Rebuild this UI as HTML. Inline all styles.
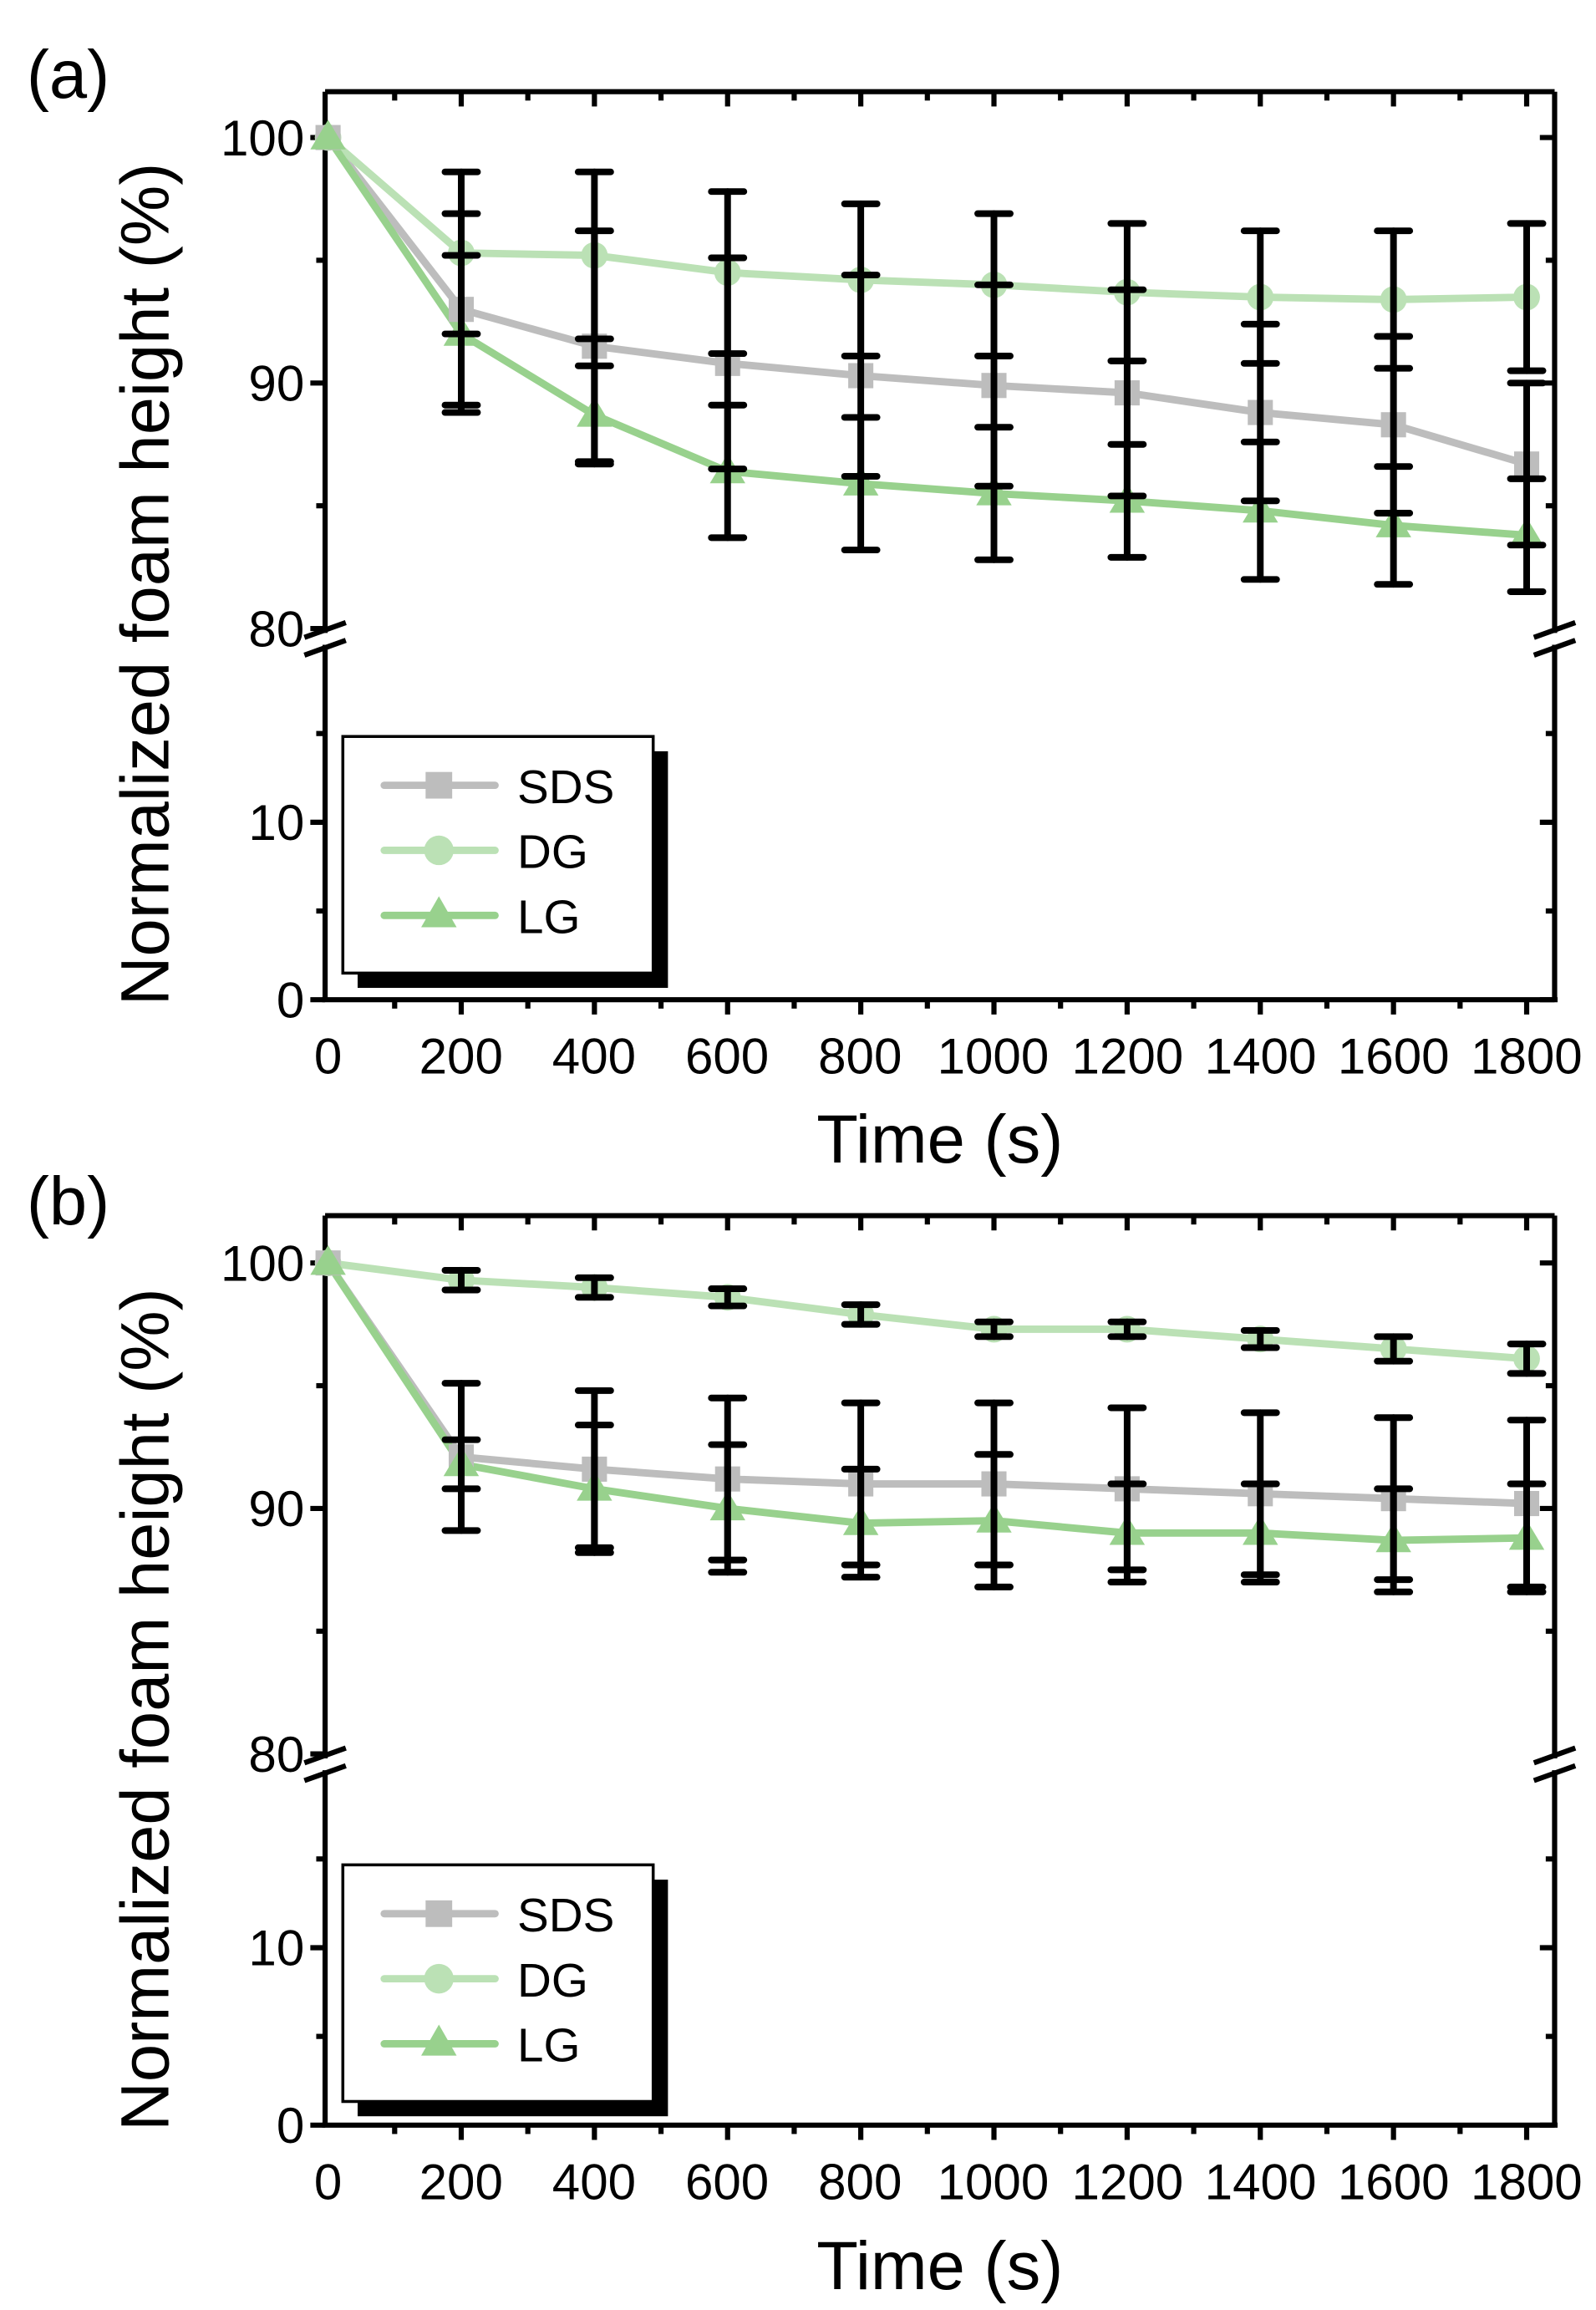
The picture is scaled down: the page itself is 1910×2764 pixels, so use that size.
<!DOCTYPE html>
<html><head><meta charset="utf-8"><style>
html,body{margin:0;padding:0;background:#fff}
svg{display:block}
text{font-family:"Liberation Sans",sans-serif;fill:#000}
</style></head><body>
<svg id="s" width="1910" height="2764" viewBox="0 0 1080 1562" preserveAspectRatio="none" xmlns="http://www.w3.org/2000/svg">
<rect width="1080" height="1562" fill="#fff"/>
<g id="pa"></g>
<g id="pb"></g>
<text x="18" y="66" font-size="46">(a)</text>
<text font-size="34" text-anchor="end" x="206" y="105">100</text>
<text font-size="34" text-anchor="end" x="206" y="271">90</text>
<text font-size="34" text-anchor="end" x="206" y="437">80</text>
<text font-size="34" text-anchor="end" x="206" y="568">10</text>
<text font-size="34" text-anchor="end" x="206" y="688">0</text>
<g font-size="34" text-anchor="middle">
<text x="222" y="726">0</text><text x="312" y="726">200</text><text x="402" y="726">400</text><text x="492" y="726">600</text><text x="582" y="726">800</text><text x="672" y="726">1000</text><text x="763" y="726">1200</text><text x="853" y="726">1400</text><text x="943" y="726">1600</text><text x="1033" y="726">1800</text>
</g>
<text x="636" y="786" font-size="46" text-anchor="middle">Time (s)</text>
<text transform="translate(114,395) rotate(-90)" font-size="46" text-anchor="middle">Normalized foam height (%)</text>
<rect x="242" y="508" width="210" height="160" fill="#000"/>
<rect x="232" y="498" width="210" height="160" fill="#fff" stroke="#000" stroke-width="2"/>
<text x="350" y="543" font-size="32">SDS</text>
<text x="350" y="587" font-size="32">DG</text>
<text x="350" y="631" font-size="32">LG</text>
<text x="18" y="828" font-size="46">(b)</text>
<text font-size="34" text-anchor="end" x="206" y="866">100</text>
<text font-size="34" text-anchor="end" x="206" y="1032">90</text>
<text font-size="34" text-anchor="end" x="206" y="1198">80</text>
<text font-size="34" text-anchor="end" x="206" y="1329">10</text>
<text font-size="34" text-anchor="end" x="206" y="1449">0</text>
<g font-size="34" text-anchor="middle">
<text x="222" y="1487">0</text><text x="312" y="1487">200</text><text x="402" y="1487">400</text><text x="492" y="1487">600</text><text x="582" y="1487">800</text><text x="672" y="1487">1000</text><text x="763" y="1487">1200</text><text x="853" y="1487">1400</text><text x="943" y="1487">1600</text><text x="1033" y="1487">1800</text>
</g>
<text x="636" y="1548" font-size="46" text-anchor="middle">Time (s)</text>
<text transform="translate(114,1156) rotate(-90)" font-size="46" text-anchor="middle">Normalized foam height (%)</text>
<rect x="242" y="1271" width="210" height="160" fill="#000"/>
<rect x="232" y="1261" width="210" height="160" fill="#fff" stroke="#000" stroke-width="2"/>
<text x="350" y="1306" font-size="32">SDS</text>
<text x="350" y="1350" font-size="32">DG</text>
<text x="350" y="1394" font-size="32">LG</text>
<g id="leg"></g>
</svg>
<script>
var NS="http://www.w3.org/2000/svg";
function el(p,t,a){var e=document.createElementNS(NS,t);for(var k in a)e.setAttribute(k,a[k]);p.appendChild(e);return e;}
var C={S:"#bdbdbd",D:"#bbe1b5",L:"#98d18d"};
function X(t){return 222+t*0.4506;}
var T=[0,200,400,600,800,1000,1200,1400,1600,1800];
function panel(g,top,y100,y0,d){
 function Y(v){return v>=80? y100+(100-v)*16.6 : y0-v*12;}
 var L=220,R=1052,B=y0,brk=Y(80)+7;
 var ax={stroke:"#000","stroke-width":3.5,fill:"none"};
 el(g,"line",Object.assign({x1:L,y1:top,x2:R,y2:top},ax));
 el(g,"line",Object.assign({x1:L-2,y1:B,x2:R+2,y2:B},ax));
 el(g,"line",Object.assign({x1:L,y1:top,x2:L,y2:brk-4},ax));
 el(g,"line",Object.assign({x1:L,y1:brk+4,x2:L,y2:B},ax));
 el(g,"line",Object.assign({x1:R,y1:top,x2:R,y2:brk-4},ax));
 el(g,"line",Object.assign({x1:R,y1:brk+4,x2:R,y2:B},ax));
 [L,R].forEach(function(x){
  el(g,"line",Object.assign({x1:x-14,y1:brk-1,x2:x+14,y2:brk-11},ax));
  el(g,"line",Object.assign({x1:x-14,y1:brk+11,x2:x+14,y2:brk+1},ax));
 });
 [[100,1],[95,0],[90,1],[85,0],[80,1],[15,0],[10,1],[5,0],[0,1]].forEach(function(q){
  var y=Y(q[0]),len=q[1]?10:6;
  el(g,"line",Object.assign({x1:L-len,y1:y,x2:L,y2:y},ax));
  if(q[0]!=80) el(g,"line",Object.assign({x1:R-len,y1:y,x2:R,y2:y},ax));
 });
 for(var t=100;t<=1800;t+=100){var x=X(t),len=(t%200==0)?10:6;
  el(g,"line",Object.assign({x1:x,y1:B,x2:x,y2:B+len},ax));
  el(g,"line",Object.assign({x1:x,y1:top,x2:x,y2:top+len},ax));}
 ["S","D","L"].forEach(function(k){
  var pts=T.map(function(t,i){return X(t)+","+Y(d[k][i][0]);}).join(" ");
  el(g,"polyline",{points:pts,fill:"none",stroke:C[k],"stroke-width":5,"stroke-linecap":"round"});
 });
 ["D","S","L"].forEach(function(k){
  T.forEach(function(t,i){var x=X(t),y=Y(d[k][i][0]);
   if(k=="S") el(g,"rect",{x:x-8.5,y:y-8.5,width:17,height:17,fill:C.S});
   else if(k=="D") el(g,"circle",{cx:x,cy:y,r:9,fill:C.D});
   else el(g,"polygon",{points:(x)+","+(y-12)+" "+(x-12)+","+(y+8)+" "+(x+12)+","+(y+8),fill:C.L});
  });
 });
 ["S","D","L"].forEach(function(k){
  T.forEach(function(t,i){var e=d[k][i][1];if(!e)return;var x=X(t),v=d[k][i][0];
   var y1=Y(v+e),y2=Y(v-e);
   var st={stroke:"#000","stroke-width":4.5,"stroke-linecap":"round"};
   el(g,"line",Object.assign({x1:x,y1:y1,x2:x,y2:y2},st));
   el(g,"line",Object.assign({x1:x-11,y1:y1,x2:x+11,y2:y1},st));
   el(g,"line",Object.assign({x1:x-11,y1:y2,x2:x+11,y2:y2},st));
  });
 });
}
var da={S:[[100,0],[93,3.9],[91.5,4.7],[90.8,4.3],[90.3,4.1],[89.9,4.1],[89.6,4.2],[88.8,3.6],[88.3,3.6],[86.7,3.3]],
 D:[[100,0],[95.3,3.3],[95.2,3.4],[94.5,3.3],[94.2,3.1],[94,2.9],[93.7,2.8],[93.5,2.7],[93.4,2.8],[93.5,3]],
 L:[[100,0],[92,3.2],[88.7,2],[86.4,2.7],[85.9,2.7],[85.5,2.7],[85.2,2.3],[84.8,2.8],[84.2,2.4],[83.8,2.3]]};
var db={S:[[100,0],[92.1,3],[91.6,3.2],[91.2,3.3],[91,3.3],[91,3.3],[90.8,3.3],[90.6,3.3],[90.4,3.3],[90.2,3.4]],
 D:[[100,0],[99.3,0.4],[99,0.4],[98.6,0.35],[97.9,0.4],[97.3,0.3],[97.3,0.3],[96.9,0.35],[96.5,0.5],[96.1,0.6]],
 L:[[100,0],[91.8,1],[90.8,2.6],[90,2.6],[89.4,2.2],[89.5,2.7],[89,2],[89,2],[88.7,2.1],[88.8,2.2]]};
panel(document.getElementById("pa"),62,93,676,da);
panel(document.getElementById("pb"),822,854,1437,db);
var lg=document.getElementById("leg");
[531,1294].forEach(function(y0){
 [["S",0],["D",44],["L",88]].forEach(function(q){var k=q[0],y=y0+q[1];
  el(lg,"line",{x1:260,y1:y,x2:335,y2:y,stroke:C[k],"stroke-width":5,"stroke-linecap":"round"});
  var x=297;
  if(k=="S") el(lg,"rect",{x:x-9,y:y-9,width:18,height:18,fill:C.S});
  else if(k=="D") el(lg,"circle",{cx:x,cy:y,r:10,fill:C.D});
  else el(lg,"polygon",{points:x+","+(y-13)+" "+(x-12)+","+(y+8)+" "+(x+12)+","+(y+8),fill:C.L});
 });
});
</script>
</body></html>
